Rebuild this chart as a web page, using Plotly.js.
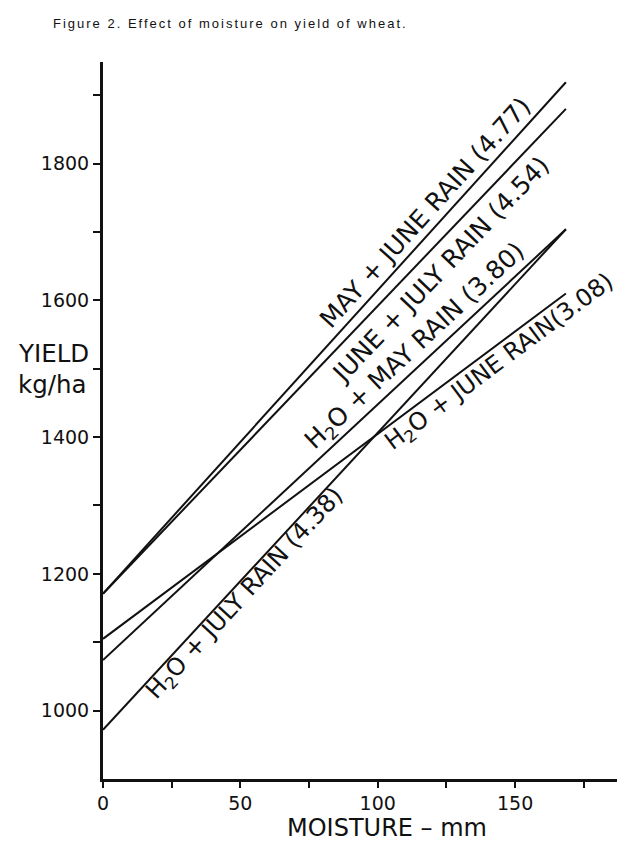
<!DOCTYPE html>
<html>
<head>
<meta charset="utf-8">
<script src="https://cdn.plot.ly/plotly-3.0.1.min.js"></script>
<style>
html,body{margin:0;padding:0;background:#fff;}
#chart{width:618px;height:842px;}
#chart .gtitle{letter-spacing:2px;}
</style>
</head>
<body>
<div id="chart"></div>
<script>
// Data
const moistureMM = [0, 168.5];
const yieldMayJune = [1171, 1919];
const yieldJuneJuly = [1171, 1880];
const yieldH2OMay = [1074, 1704];
const yieldH2OJune = [1105, 1610];
const yieldH2OJuly = [972, 1704];

const seriesLabels = [
  'MAY + JUNE RAIN (4.77)',
  'JUNE + JULY RAIN (4.54)',
  'H<sub>2</sub>O + MAY RAIN (3.80)',
  'H<sub>2</sub>O + JUNE RAIN(3.08)',
  'H<sub>2</sub>O + JULY RAIN (4.38)'
];
const xTickVals = [0, 25, 50, 75, 100, 125, 150, 175];
const xTickText = ['0', '', '50', '', '100', '', '150', ''];
const yTickVals = [1000, 1100, 1200, 1300, 1400, 1500, 1600, 1700, 1800, 1900];
const yTickText = ['1000', '', '1200', '', '1400', '', '1600', '', '1800', ''];

const seriesY = [yieldMayJune, yieldJuneJuly, yieldH2OMay, yieldH2OJune, yieldH2OJuly];

const traces = seriesY.map((ys, i) => ({
  x: moistureMM, y: ys, type: 'scatter', mode: 'lines',
  line: {color: '#111', width: 2}, name: seriesLabels[i], hoverinfo: 'skip'
}));

// label placement (data coords), angle along each line, font size
const labelPos = [
  {x: 117.3, y: 1729, a: -47.9, s: 25},
  {x: 123.0, y: 1645, a: -46.3, s: 25},
  {x: 113.6, y: 1532, a: -43.0, s: 25},
  {x: 144.5, y: 1509, a: -36.7, s: 24},
  {x: 51.7, y: 1170, a: -47.3, s: 24}
];

const annotations = seriesLabels.map((t, i) => ({
  text: t, x: labelPos[i].x, y: labelPos[i].y, xref: 'x', yref: 'y',
  showarrow: false, textangle: labelPos[i].a,
  font: {family: 'DejaVu Sans', size: labelPos[i].s, color: '#111'},
  xanchor: 'center', yanchor: 'middle'
}));

annotations.push(
  {text: 'YIELD', xref: 'paper', yref: 'paper', x: -0.169, y: 0.593, xanchor: 'left', yanchor: 'middle',
   showarrow: false, font: {family: 'DejaVu Sans', size: 24.5, color: '#111'}},
  {text: 'kg/ha', xref: 'paper', yref: 'paper', x: -0.169, y: 0.550, xanchor: 'left', yanchor: 'middle',
   showarrow: false, font: {family: 'DejaVu Sans', size: 24.5, color: '#111'}},
  {text: 'MOISTURE \u2013 mm', xref: 'paper', yref: 'paper', x: 0.5525, y: -0.068, xanchor: 'center', yanchor: 'middle',
   showarrow: false, font: {family: 'DejaVu Sans', size: 24, color: '#111'}}
);

const layout = {
  width: 618, height: 842,
  margin: {l: 103, r: 1, t: 62, b: 63},
  paper_bgcolor: '#fff', plot_bgcolor: '#fff',
  showlegend: false,
  title: {
    text: 'Figure 2. Effect of moisture on yield of wheat.',
    xref: 'container', yref: 'container', x: 53/618, xanchor: 'left', y: 1 - 23/842, yanchor: 'middle',
    font: {family: 'Liberation Sans', size: 13, color: '#111'}
  },
  xaxis: {
    range: [0, 187.1], showgrid: false, zeroline: false,
    showline: true, linecolor: '#111', linewidth: 2.5,
    ticks: 'outside', ticklen: 6, tickwidth: 2, tickcolor: '#111',
    tickmode: 'array', tickvals: xTickVals, ticktext: xTickText,
    tickfont: {family: 'DejaVu Sans', size: 19, color: '#111'}
  },
  yaxis: {
    range: [900, 1948.6], showgrid: false, zeroline: false,
    showline: true, linecolor: '#111', linewidth: 3,
    ticks: 'outside', ticklen: 7, tickwidth: 2, tickcolor: '#111',
    tickmode: 'array', tickvals: yTickVals, ticktext: yTickText,
    tickfont: {family: 'DejaVu Sans', size: 19, color: '#111'}
  },
  annotations: annotations
};

Plotly.newPlot('chart', traces, layout, {staticPlot: true, displayModeBar: false});
</script>
</body>
</html>
